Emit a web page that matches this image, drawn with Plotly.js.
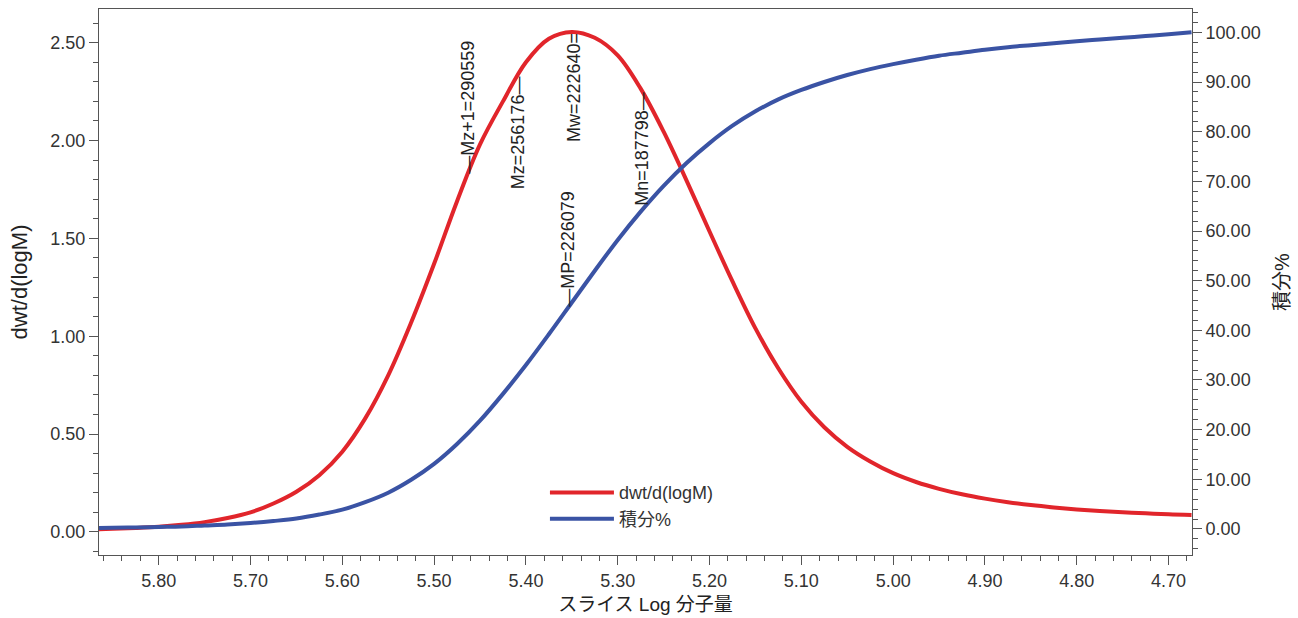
<!DOCTYPE html>
<html>
<head>
<meta charset="utf-8">
<script src="https://cdn.plot.ly/plotly-3.0.1.min.js"></script>
<style>html,body{margin:0;padding:0;background:#fff;}#chart{width:1298px;height:618px;}</style>
</head>
<body>
<div id="chart"></div>
<script>
// Slice log molecular weight (x axis, reversed)
const logM = [5.865, 5.85, 5.825, 5.80, 5.775, 5.75, 5.725, 5.70, 5.675, 5.65, 5.625, 5.60,
  5.575, 5.55, 5.525, 5.50, 5.475, 5.45, 5.425, 5.40, 5.375, 5.35, 5.325, 5.30, 5.275, 5.25,
  5.225, 5.20, 5.175, 5.15, 5.125, 5.10, 5.075, 5.05, 5.025, 5.00, 4.975, 4.95, 4.925, 4.90,
  4.875, 4.85, 4.825, 4.80, 4.775, 4.75, 4.725, 4.70, 4.675];
// dwt/d(logM) (left axis)
const dwt = [0.013, 0.016, 0.020, 0.026, 0.036, 0.050, 0.071, 0.100, 0.145, 0.205, 0.29, 0.41,
  0.58, 0.80, 1.07, 1.37, 1.69, 1.98, 2.20, 2.40, 2.52, 2.555, 2.525, 2.435, 2.265, 2.045,
  1.795, 1.535, 1.28, 1.04, 0.835, 0.665, 0.535, 0.435, 0.36, 0.30, 0.255, 0.22, 0.192, 0.17,
  0.152, 0.137, 0.125, 0.115, 0.107, 0.100, 0.095, 0.090, 0.087];
// 積分% (right axis)
const cumPct = [0.2, 0.25, 0.3, 0.4, 0.5, 0.7, 0.9, 1.2, 1.6, 2.1, 2.9, 3.9,
  5.4, 7.3, 9.9, 13.1, 17.1, 21.8, 27.2, 33.0, 39.2, 45.6, 52.0, 58.2, 63.9, 69.1,
  73.7, 77.7, 81.2, 84.1, 86.5, 88.4, 90.0, 91.4, 92.6, 93.6, 94.5, 95.3, 95.9, 96.5,
  97.0, 97.4, 97.8, 98.2, 98.55, 98.9, 99.25, 99.6, 100.0];
// Average molecular weight markers
const markNames = ['Mz+1', 'Mz', 'Mw', 'MP', 'Mn'];
const markValues = [290559, 256176, 222640, 226079, 187798];
const markCurve = ['dwt', 'dwt', 'dwt', 'cum', 'dwt'];
const markDashAtStart = [true, false, false, true, false];

const FONT = '"Liberation Sans", Arial, "Noto Sans CJK JP", sans-serif';
const RED = '#e1252b';
const BLUE = '#3a53a4';

function interp(xs, ys, x) {
  for (let i = 0; i < xs.length - 1; i++) {
    const a = xs[i], b = xs[i + 1];
    if ((x <= a && x >= b) || (x >= a && x <= b)) {
      const t = (x - a) / (b - a);
      return ys[i] + t * (ys[i + 1] - ys[i]);
    }
  }
  return ys[ys.length - 1];
}

const annotations = markNames.map((name, i) => {
  const lx = Math.log10(markValues[i]);
  const onCum = markCurve[i] === 'cum';
  const yv = onCum ? interp(logM, cumPct, lx) : interp(logM, dwt, lx);
  let label = name + '=' + markValues[i];
  if (markDashAtStart[i]) label = '\u2014' + label;
  else label = label + (name === 'Mw' ? '=' : '\u2014');
  return {
    x: lx, y: yv, xref: 'x', yref: onCum ? 'y2' : 'y',
    text: label, showarrow: false, textangle: -90,
    xanchor: 'center', yanchor: markDashAtStart[i] ? 'bottom' : 'top',
    font: {family: FONT, size: 18, color: '#222'},
    borderpad: 0
  };
});

const traces = [
  {x: logM, y: dwt, name: 'dwt/d(logM)', type: 'scatter', mode: 'lines',
   line: {color: RED, width: 4, shape: 'spline', smoothing: 1}, yaxis: 'y'},
  {x: logM, y: cumPct, name: '積分%', type: 'scatter', mode: 'lines',
   line: {color: BLUE, width: 4, shape: 'spline', smoothing: 1}, yaxis: 'y2'}
];

const axisCommon = {
  showgrid: false, zeroline: false, showline: true, linecolor: '#555', linewidth: 1,
  ticks: 'outside', ticklen: 9, tickcolor: '#555', tickwidth: 1,
  tickfont: {family: FONT, size: 18, color: '#333'},
  tickformat: '.2f'
};

const layout = {
  width: 1298, height: 618,
  margin: {l: 99, r: 106, t: 9, b: 63},
  paper_bgcolor: '#fff', plot_bgcolor: '#fff',
  font: {family: FONT, color: '#222'},
  showlegend: true,
  legend: {x: 0.408, y: 0.148, xanchor: 'left', yanchor: 'top', bgcolor: 'rgba(0,0,0,0)',
           font: {family: FONT, size: 18, color: '#333'}, itemwidth: 64},
  xaxis: Object.assign({}, axisCommon, {
    range: [5.865, 4.6745], tick0: 5.8, dtick: 0.1, mirror: true,
    minor: {dtick: 0.02, ticks: 'outside', ticklen: 5, tickcolor: '#555'},
    title: {text: 'スライス Log 分子量', font: {family: FONT, size: 19, color: '#222'}, standoff: 8}
  }),
  yaxis: Object.assign({}, axisCommon, {
    range: [-0.118, 2.672], tick0: 0, dtick: 0.5, mirror: true,
    minor: {dtick: 0.1, ticks: 'outside', ticklen: 5, tickcolor: '#555'},
    title: {text: 'dwt/d(logM)', font: {family: FONT, size: 22, color: '#222'}, standoff: 16}
  }),
  yaxis2: Object.assign({}, axisCommon, {
    overlaying: 'y', side: 'right',
    range: [-5.24, 104.7], tick0: 0, dtick: 10,
    minor: {dtick: 2, ticks: 'outside', ticklen: 5, tickcolor: '#555'},
    title: {text: '積分%', font: {family: FONT, size: 20, color: '#222'}, standoff: 15}
  }),
  annotations: annotations
};

Plotly.newPlot('chart', traces, layout, {displayModeBar: false, staticPlot: true});
</script>
</body>
</html>
